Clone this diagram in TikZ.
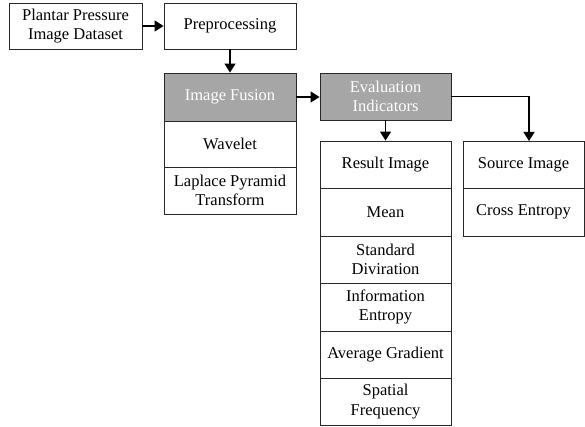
\documentclass[tikz,border=0pt]{standalone}
\usepackage{fontspec}
\setmainfont{Liberation Serif}
\usetikzlibrary{arrows.meta}
\definecolor{boxgray}{RGB}{166,166,166}
\definecolor{edge}{RGB}{40,40,40}
\tikzset{
  box/.style={draw=edge, line width=0.9pt, fill=white, inner sep=0pt, align=center,
    font=\fontsize{16.5}{19.5}\selectfont, text=black},
  gbox/.style={box, fill=boxgray, text=white},
  arr/.style={line width=1.3pt, -{Triangle[length=9pt,width=11pt]}},
}
\begin{document}
\begin{tikzpicture}[x=1pt,y=1pt]
\useasboundingbox (0,0) rectangle (585,427);
% y_tikz = 427 - y_px
\node[box, minimum width=133pt, minimum height=46pt] (data) at (75.5,401) {Plantar Pressure\\Image Dataset};
\node[box, minimum width=132pt, minimum height=46pt] (pre) at (230,401) {Preprocessing};
\node[gbox, minimum width=132pt, minimum height=48pt] (fus) at (230,330) {Image Fusion};
\node[box, minimum width=132pt, minimum height=46pt] (wav) at (230,283) {Wavelet};
\node[box, minimum width=132pt, minimum height=47pt] (lap) at (230,236.5) {Laplace Pyramid\\Transform};
\node[gbox, minimum width=131pt, minimum height=47pt] (eval) at (385.5,330.5) {Evaluation\\Indicators};
\node[box, minimum width=131pt, minimum height=47pt] (res) at (385.5,262.5) {Result Image};
\node[box, minimum width=131pt, minimum height=48pt] (mean) at (385.5,215) {Mean};
\node[box, minimum width=131pt, minimum height=47pt] (std) at (385.5,167.5) {Standard\\Diviration};
\node[box, minimum width=131pt, minimum height=48pt] (info) at (385.5,120) {Information\\Entropy};
\node[box, minimum width=131pt, minimum height=47pt] (avg) at (385.5,72.5) {Average Gradient};
\node[box, minimum width=131pt, minimum height=47pt] (spat) at (385.5,25.5) {Spatial\\Frequency};
\node[box, minimum width=121pt, minimum height=47pt] (src) at (523.5,262.5) {Source Image};
\node[box, minimum width=121pt, minimum height=48pt] (cross) at (523.5,215) {Cross Entropy};
\coordinate (srctop) at (529,286);
\draw[arr] (data.east) -- (pre.west);
\draw[arr] (pre.south) -- (fus.north);
\draw[arr] (fus.east) -- (fus.east -| eval.west);
\draw[arr] (eval.south) -- (res.north);
\draw[arr] (eval.east) -| (srctop);
\end{tikzpicture}
\end{document}
